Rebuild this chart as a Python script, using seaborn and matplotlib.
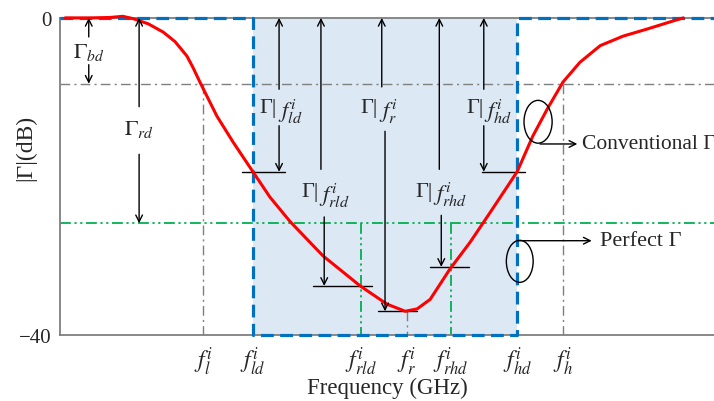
import numpy as np
import pandas as pd
import matplotlib
matplotlib.use("Agg")
import matplotlib.pyplot as plt
from matplotlib.patches import Ellipse
import seaborn as sns

# ---------------- data ----------------
# frequency axis in normalised units (0..100), |Gamma| in dB
curve_freq = [0.8, 4.6, 7.6, 9.6, 11.2, 13.5, 15.8, 17.6, 19.4, 20.3, 21.4, 24.0,
              26.5, 29.5, 32.1, 35.2, 40.2, 45.9, 50.0, 52.8, 54.6, 56.6, 59.6,
              62.7, 65.8, 69.9, 72.3, 74.5, 76.9, 79.5, 82.6, 86.1, 89.8, 93.3, 95.3]
curve_db = [0.0, 0.0, 0.05, 0.2, -0.1, -0.75, -1.8, -3.0, -4.8, -6.2, -8.1, -12.4,
            -15.7, -19.4, -22.6, -25.7, -30.0, -33.8, -36.1, -37.0, -36.7, -35.5, -31.7,
            -28.3, -24.5, -19.4, -14.9, -11.5, -8.1, -5.6, -3.5, -2.3, -1.4, -0.5, 0.0]

tick_names = ["l", "ld", "rld", "r", "rhd", "hd", "h"]
tick_freq = [21.9, 29.5, 46.0, 53.0, 59.8, 69.9, 76.9]
tick_labels = [r"$f_{l}^{i}$", r"$f_{ld}^{i}$", r"$f_{rld}^{i}$", r"$f_{r}^{i}$",
               r"$f_{rhd}^{i}$", r"$f_{hd}^{i}$", r"$f_{h}^{i}$"]

y_limits = [-40, 0]
bd_level = -8.3        # bandwidth-definition level
perfect_level = -25.9  # perfect Gamma level

# Gamma read at the marked frequencies
gamma_names = ["ld", "rld", "r", "rhd", "hd"]
gamma_values = [-19.4, -33.8, -37.0, -31.4, -19.4]

f = dict(zip(tick_names, tick_freq))
g = dict(zip(gamma_names, gamma_values))

# ---------------- style ----------------
sns.set_style("white")
plt.rcParams["font.family"] = ["Liberation Serif", "DejaVu Serif"]
plt.rcParams["mathtext.fontset"] = "stix"

fig = plt.figure(figsize=(7.14, 4.02), dpi=100)
ax = fig.add_axes([0.084, 0.164, 0.916, 0.789])
ax.set_xlim(0, 100)
ax.set_ylim(*y_limits)

gray = "#7f7f7f"
blue = "#0070c0"
green = "#00b050"

# shaded passband
ax.axvspan(f["ld"], f["hd"], color="#dde8f5", zorder=0, lw=0)

# gray dash-dot guide lines
dls = (0, (7, 3, 1.5, 3))
ax.axhline(bd_level, color=gray, lw=1.0, ls=dls, zorder=1)
for key in ["l", "h"]:
    ax.plot([f[key], f[key]], [bd_level, y_limits[0]], color=gray, lw=1.0, ls=dls, zorder=1)
ax.plot([f["r"], f["r"]], [g["r"], y_limits[0]], color=gray, lw=1.0, ls=dls, zorder=1)

# green dash-dot-dot perfect level
gls = (0, (6, 2, 1.2, 2, 1.2, 2))
ax.axhline(perfect_level, color=green, lw=1.3, ls=gls, zorder=1)
for key in ["rld", "rhd"]:
    ax.plot([f[key], f[key]], [perfect_level, y_limits[0]], color=green, lw=1.3,
            ls=gls, zorder=1)

# perfect (brick-wall) response
px = [0, f["ld"], f["ld"], f["hd"], f["hd"], 100]
py = [0, 0, y_limits[0], y_limits[0], 0, 0]
ax.plot(px, py, color=blue, lw=2.3, ls=(0, (4, 2)), zorder=4, clip_on=False)

# conventional response
df = pd.DataFrame({"freq": curve_freq, "db": curve_db})
sns.lineplot(data=df, x="freq", y="db", color="red", lw=2.2, sort=False, ax=ax,
             zorder=5, clip_on=False)

# horizontal marker bars at the measured levels
bars = {"ld": (27.8, 34.4), "rld": (38.7, 47.7), "r": (48.6, 54.6),
        "rhd": (56.6, 62.5), "hd": (64.5, 71.1)}
for key, (x0, x1) in bars.items():
    ax.plot([x0, x1], [g[key], g[key]], color="black", lw=1.0, zorder=3)

aprops = dict(arrowstyle="->", color="black", lw=1.0, mutation_scale=12,
              shrinkA=0, shrinkB=0)


def arrow_pair(x_up, y_up_from, y_top, x_dn, y_dn_from, y_bot):
    ax.annotate("", xy=(x_up, y_top), xytext=(x_up, y_up_from), arrowprops=aprops, zorder=6)
    ax.annotate("", xy=(x_dn, y_bot), xytext=(x_dn, y_dn_from), arrowprops=aprops, zorder=6)


def gamma_at(key, xa, ya):
    # "Γ|" followed by a lowered f_{key}^{i}
    ax.text(xa, ya, "Γ|", ha="right", va="baseline", fontsize=16, zorder=7)
    ax.annotate(r"$f_{%s}^{i}$" % key, xy=(xa, ya), xytext=(0.5, -3.5),
                textcoords="offset points", ha="left", va="baseline",
                fontsize=16.5, zorder=7)


arrow_pair(4.4, -2.4, 0, 4.4, -5.9, bd_level)
ax.text(4.4, -4.2, r"$\Gamma_{bd}$", ha="center", va="center", fontsize=16)
arrow_pair(12.1, -11.2, 0, 12.1, -17.2, perfect_level)
ax.text(12.1, -14.0, r"$\Gamma_{rd}$", ha="center", va="center", fontsize=16)

arrow_pair(33.5, -9.0, 0, 33.5, -13.6, g["ld"])
gamma_at("ld", 33.2, -11.9)
arrow_pair(39.9, -19.1, 0, 40.4, -25.1, g["rld"])
gamma_at("rld", 39.5, -22.5)
arrow_pair(49.2, -8.7, 0, 49.7, -14.3, g["r"])
gamma_at("r", 48.6, -11.9)
arrow_pair(58.0, -19.1, 0, 58.3, -24.9, g["rhd"])
gamma_at("rhd", 57.0, -22.4)
arrow_pair(64.8, -9.0, 0, 64.8, -13.6, g["hd"])
gamma_at("hd", 64.7, -11.9)

# callouts
ax.add_patch(Ellipse((73.1, -13.1), 4.3, 5.4, fill=False, ec="black", lw=1.0, zorder=6))
ax.annotate("", xy=(79.1, -15.9), xytext=(73.4, -15.9), arrowprops=aprops, zorder=6)
ax.text(79.8, -15.9, "Conventional Γ", fontsize=15.5, va="center", ha="left")

ax.add_patch(Ellipse((70.3, -30.7), 4.1, 5.3, fill=False, ec="black", lw=1.0, zorder=6))
ax.annotate("", xy=(81.3, -28.1), xytext=(70.0, -28.1), arrowprops=aprops, zorder=6)
ax.text(82.6, -28.1, "Perfect Γ", fontsize=16, va="center", ha="left")

# axes styling
ax.set_xticks(tick_freq)
ax.set_xticklabels(tick_labels, fontsize=17)
ax.set_yticks(y_limits)
ax.set_yticklabels(["−40", "0"], fontsize=15)
ax.tick_params(length=0, pad=6)
ax.tick_params(axis="x", pad=7)
for side in ["left", "bottom", "top"]:
    ax.spines[side].set_color(gray)
    ax.spines[side].set_linewidth(1.3)
ax.spines["right"].set_visible(False)
ax.set_xlabel("Frequency (GHz)", fontsize=16.5, labelpad=0)
ax.set_ylabel("|Γ|(dB)", fontsize=17)
ax.yaxis.set_label_coords(-0.036, 0.593)
ax.grid(False)

fig.savefig("out.png", dpi=100)
